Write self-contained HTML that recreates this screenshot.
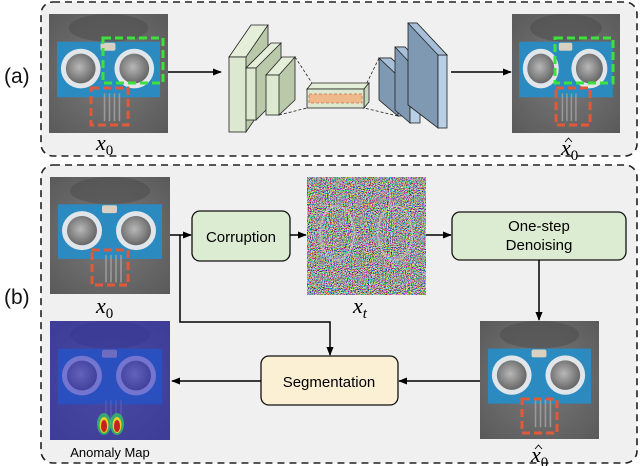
<!DOCTYPE html>
<html><head><meta charset="utf-8"><style>
html,body{margin:0;padding:0;background:#fff;}
svg{display:block;font-family:"Liberation Sans",sans-serif;}
</style></head><body>
<svg width="640" height="466" viewBox="0 0 640 466" xmlns="http://www.w3.org/2000/svg">
<defs>
<marker id="ah" viewBox="0 0 10 10" refX="9" refY="5" markerWidth="6" markerHeight="6" orient="auto"><path d="M0,1 L10,5 L0,9 z" fill="#000"/></marker>
<radialGradient id="bgG" cx="50%" cy="50%" r="70%"><stop offset="0" stop-color="#7a7a7a"/><stop offset="1" stop-color="#5a5a5a"/></radialGradient>
<radialGradient id="silver" cx="45%" cy="45%" r="60%"><stop offset="0" stop-color="#b8b8b8"/><stop offset="1" stop-color="#606060"/></radialGradient>
<symbol id="sensor" viewBox="0 0 120 120" preserveAspectRatio="none">
<rect width="120" height="120" fill="url(#bgG)"/>
<ellipse cx="60" cy="14" rx="40" ry="14" fill="#4a4a4a" opacity="0.5"/>
<rect x="8" y="28" width="104" height="56" fill="#2b8bc0"/>
<rect x="52" y="29" width="15" height="8" rx="2" fill="#d8d0c0"/>
<circle cx="32" cy="55" r="20" fill="#e0e6ea"/>
<circle cx="32" cy="55" r="15" fill="url(#silver)"/>
<circle cx="86" cy="55" r="20" fill="#e0e6ea"/>
<circle cx="86" cy="55" r="15" fill="url(#silver)"/>
<g stroke="#9a9a9a" stroke-width="1.6"><line x1="56" y1="80" x2="56" y2="108"/><line x1="61" y1="80" x2="61" y2="108"/><line x1="66" y1="80" x2="66" y2="108"/><line x1="71" y1="80" x2="71" y2="108"/></g>
</symbol>
<filter id="noise" x="0" y="0" width="100%" height="100%">
<feTurbulence type="fractalNoise" baseFrequency="0.95" numOctaves="2" seed="3"/>
<feColorMatrix type="matrix" values="3 0 0 0 -1.1  0 3 0 0 -1.1  0 0 3 0 -1.1  0 0 0 0 1"/>
</filter>
</defs>

<!-- panel a -->
<rect x="41" y="2" width="596" height="154" rx="12" fill="#f0f0f0" stroke="#222" stroke-width="1.6" stroke-dasharray="7,5"/>
<text x="4" y="83" font-size="21" fill="#111">(a)</text>
<use href="#sensor" x="49" y="14" width="119" height="119"/>
<rect x="103" y="38" width="60" height="45" fill="none" stroke="#3ee03e" stroke-width="3" stroke-dasharray="8,4"/>
<rect x="91" y="88" width="37" height="37" fill="none" stroke="#e05a3a" stroke-width="3" stroke-dasharray="8,4"/>
<text x="96" y="150" font-family="Liberation Serif,serif" font-style="italic" font-size="22">x<tspan font-style="normal" font-size="15" dy="5">0</tspan></text>
<line x1="168" y1="72" x2="221" y2="72" stroke="#000" stroke-width="1.5" marker-end="url(#ah)"/>
<g stroke="#222" stroke-width="0.8">
<polygon points="229,57 268,25 268,100 246,132" fill="#b9c9aa"/><polygon points="229,57 246,57 268,25 251,25" fill="#e4eed8"/><rect x="229" y="57" width="17" height="75" fill="#dce8d0"/>
<polygon points="246,68 281,43 281,95 256,120" fill="#b9c9aa"/><polygon points="246,68 256,68 281,43 271,43" fill="#e4eed8"/><rect x="246" y="68" width="10" height="52" fill="#dce8d0"/>
<polygon points="266,75 295,57 295,100 279,115" fill="#b9c9aa"/><polygon points="266,75 279,75 295,57 282,57" fill="#e4eed8"/><rect x="266" y="75" width="13" height="40" fill="#dce8d0"/>
<g stroke-dasharray="3,2"><line x1="295" y1="57" x2="312" y2="83"/><line x1="279" y1="115" x2="307" y2="108"/><line x1="379" y1="58" x2="364" y2="89"/><line x1="398" y1="116" x2="364" y2="108"/></g>
<polygon points="307,89 312,83 369,83 364,89" fill="#e4eed8"/>
<polygon points="364,89 369,83 369,102 364,108" fill="#c9d6bc"/>
<rect x="307" y="89" width="57" height="19" fill="#dce8d0"/>
<rect x="309" y="94" width="53" height="9" fill="#f0b98c" stroke="#c07050" stroke-dasharray="3,2"/>
<polygon points="379,58 391,58 410,76 398,76 398,116 379,100" fill="#7f99b3"/><rect x="398" y="76" width="12" height="40" fill="#b8cfe6"/><polygon points="379,58 391,58 410,76 398,76" fill="#a7bfd8"/>
<polygon points="395,47 405,47 420,63 410,63 410,123 395,110" fill="#7f99b3"/><rect x="410" y="63" width="10" height="60" fill="#b8cfe6"/><polygon points="395,47 405,47 420,63 410,63" fill="#a7bfd8"/>
<polygon points="408,23 417,23 447,55 438,55 438,128 408,105" fill="#7f99b3"/><rect x="438" y="55" width="9" height="73" fill="#b8cfe6"/><polygon points="408,23 417,23 447,55 438,55" fill="#a7bfd8"/>
</g>
<line x1="451" y1="72" x2="511" y2="72" stroke="#000" stroke-width="1.5" marker-end="url(#ah)"/>
<use href="#sensor" x="512" y="14" width="108" height="119"/>
<rect x="555" y="38" width="58" height="45" fill="none" stroke="#3ee03e" stroke-width="3" stroke-dasharray="8,4"/>
<rect x="556" y="88" width="34" height="37" fill="none" stroke="#e05a3a" stroke-width="3" stroke-dasharray="8,4"/>
<text x="561" y="155" font-family="Liberation Serif,serif" font-style="italic" font-size="22">x<tspan font-style="normal" font-size="15" dy="5">0</tspan></text>
<path d="M565,142 L568.5,138 L572,142" fill="none" stroke="#000" stroke-width="0.9"/>

<!-- panel b -->
<rect x="41" y="165" width="596" height="298" rx="12" fill="#f0f0f0" stroke="#222" stroke-width="1.6" stroke-dasharray="7,5"/>
<text x="4" y="304" font-size="21" fill="#111">(b)</text>
<use href="#sensor" x="50" y="177" width="120" height="117"/>
<rect x="92" y="250" width="36" height="35" fill="none" stroke="#e05a3a" stroke-width="3" stroke-dasharray="8,4"/>
<text x="96" y="313" font-family="Liberation Serif,serif" font-style="italic" font-size="22">x<tspan font-style="normal" font-size="15" dy="5">0</tspan></text>
<line x1="170" y1="235" x2="191" y2="235" stroke="#000" stroke-width="1.5" marker-end="url(#ah)"/>
<rect x="192" y="211" width="98" height="50" rx="8" fill="#dcecd2" stroke="#111" stroke-width="1.3"/>
<text x="241" y="242" font-size="15" text-anchor="middle">Corruption</text>
<line x1="290" y1="235" x2="306" y2="235" stroke="#000" stroke-width="1.5" marker-end="url(#ah)"/>
<rect x="307" y="177" width="119" height="118" fill="#707070"/>
<rect x="307" y="177" width="119" height="118" filter="url(#noise)"/>
<g fill="none" stroke="#d8d8d8" stroke-width="2" opacity="0.45"><ellipse cx="337" cy="233" rx="17" ry="27"/><ellipse cx="395" cy="233" rx="17" ry="27"/></g>
<text x="353" y="313" font-family="Liberation Serif,serif" font-style="italic" font-size="22">x<tspan font-size="15" dy="5">t</tspan></text>
<line x1="426" y1="235" x2="451" y2="235" stroke="#000" stroke-width="1.5" marker-end="url(#ah)"/>
<rect x="452" y="212" width="174" height="48" rx="8" fill="#dcecd2" stroke="#111" stroke-width="1.3"/>
<text x="539" y="231" font-size="15" text-anchor="middle">One-step</text>
<text x="539" y="250" font-size="15" text-anchor="middle">Denoising</text>
<line x1="539" y1="260" x2="539" y2="320" stroke="#000" stroke-width="1.5" marker-end="url(#ah)"/>
<use href="#sensor" x="480" y="321" width="119" height="118"/>
<rect x="522" y="399" width="35" height="34" fill="none" stroke="#e05a3a" stroke-width="3" stroke-dasharray="8,4"/>
<text x="531" y="462" font-family="Liberation Serif,serif" font-style="italic" font-size="22">x<tspan font-style="normal" font-size="15" dy="5">0</tspan></text>
<path d="M535,449 L538.5,445 L542,449" fill="none" stroke="#000" stroke-width="0.9"/>
<polyline points="180,235 180,322 330,322 330,355" fill="none" stroke="#000" stroke-width="1.5" marker-end="url(#ah)"/>
<line x1="480" y1="381" x2="399" y2="381" stroke="#000" stroke-width="1.5" marker-end="url(#ah)"/>
<rect x="261" y="356" width="137" height="49" rx="8" fill="#fcf0d4" stroke="#111" stroke-width="1.3"/>
<text x="329" y="387" font-size="15" text-anchor="middle">Segmentation</text>
<line x1="261" y1="381" x2="172" y2="381" stroke="#000" stroke-width="1.5" marker-end="url(#ah)"/>
<use href="#sensor" x="50" y="321" width="120" height="119"/>
<rect x="50" y="321" width="120" height="119" fill="#2a2ac0" opacity="0.6"/>
<ellipse cx="104" cy="424" rx="7" ry="11" fill="#30d060" opacity="0.7"/><ellipse cx="117" cy="424" rx="7" ry="11" fill="#30d060" opacity="0.7"/>
<ellipse cx="104" cy="425" rx="4.5" ry="8" fill="#e8d020"/><ellipse cx="117" cy="425" rx="4.5" ry="8" fill="#e8d020"/>
<ellipse cx="104" cy="426" rx="3" ry="6" fill="#c82020"/><ellipse cx="117" cy="426" rx="3" ry="6" fill="#c82020"/>
<text x="110" y="457" font-size="13" text-anchor="middle">Anomaly Map</text>
</svg>
</body></html>
